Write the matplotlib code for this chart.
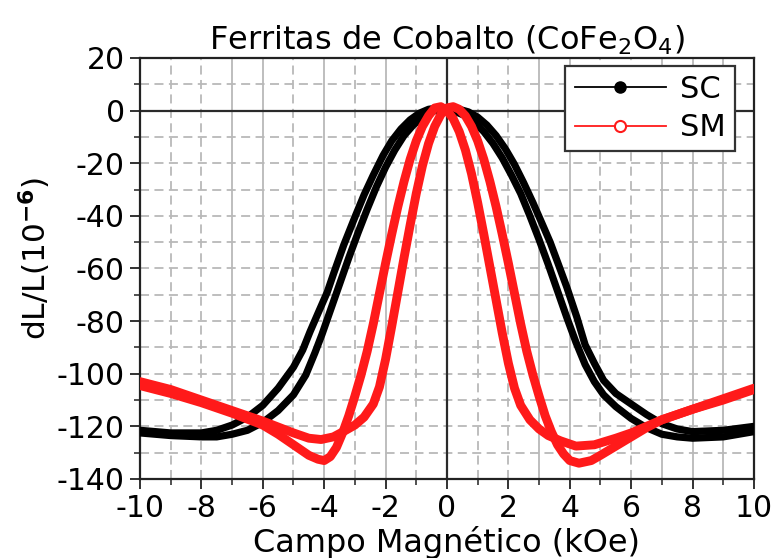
import matplotlib
matplotlib.use("Agg")
import matplotlib.pyplot as plt
from matplotlib.lines import Line2D

plt.rcParams["font.family"] = ["DejaVu Sans"]
plt.rcParams["axes.unicode_minus"] = False

# --- SC sample: two sweep branches -------------------------------------
sc_up_x = [-10, -9, -8, -7.5, -7, -6.5, -6, -5.5, -5, -4.7, -4.46, -4.2, -3.9, -3.68,
           -3.36, -3.0, -2.7, -2.4, -2.08, -1.8, -1.5, -1.2, -0.9, -0.6, -0.3, 0, 0.3,
           0.6, 0.9, 1.2, 1.5, 1.8, 2.1, 2.4, 2.7, 3.0, 3.3, 3.6, 3.9, 4.2, 4.5, 4.8,
           5.1, 5.5, 6.0, 6.5, 7, 7.5, 8, 9, 10]
sc_up_y = [-121.5, -122.5, -122.5, -121.5, -119.5, -116.5, -112, -105.5, -97.5, -91,
           -84, -77, -69, -61.5, -51, -40.5, -32, -24.5, -17, -11.5, -7, -3.5, -1, 0.5,
           1, 0.5, -0.5, -2, -4.5, -8, -12.5, -18, -24.5, -31.5, -40, -49, -58.5, -68.5,
           -78.5, -88, -96.5, -103, -108, -112.5, -117, -120.5, -123, -124, -124.5,
           -124, -122]
sc_dn_x = [-10, -9, -8, -7.5, -7, -6.5, -6, -5.5, -5, -4.6, -4.3, -4.07, -3.8, -3.5,
           -3.2, -2.9, -2.6, -2.3, -2.0, -1.7, -1.4, -1.1, -0.8, -0.5, -0.2, 0.1, 0.4,
           0.7, 1.0, 1.3, 1.6, 1.9, 2.2, 2.5, 2.8, 3.1, 3.36, 3.6, 3.9, 4.23, 4.5, 4.8,
           5.1, 5.5, 6.06, 6.5, 7, 7.5, 8, 9, 10]
sc_dn_y = [-122.5, -123.5, -124, -124, -123, -121.5, -118.5, -114, -108, -100.5, -92,
           -85, -76, -66, -56, -46.5, -37.5, -29, -21.5, -15, -9.5, -5.5, -2.5, -0.5,
           0.8, 1, 0.5, -0.5, -2.5, -5.5, -9.5, -14.5, -20.5, -27.5, -35, -43, -50, -57.5,
           -67, -78.5, -89, -96, -102.5, -107.5, -112, -115.5, -119, -121, -122, -121.5,
           -120]

# --- SM sample: two sweep branches -------------------------------------
sm_up_x = [-10, -9, -8, -7, -6, -5.5, -5, -4.5, -4.2, -4.0, -3.8, -3.6, -3.4, -3.2,
           -3.0, -2.8, -2.6, -2.4, -2.2, -2.0, -1.8, -1.6, -1.4, -1.2, -1.0, -0.8, -0.6,
           -0.4, -0.2, 0, 0.2, 0.4, 0.6, 0.8, 1.0, 1.2, 1.4, 1.6, 1.8, 2.0, 2.2, 2.4,
           2.7, 3.0, 3.3, 3.7, 4.2, 4.8, 5.5, 6, 6.5, 7, 8, 9, 10]
sm_up_y = [-104.5, -107.5, -111, -115, -119.5, -123, -127, -131, -132.5, -133, -131.5,
           -128, -122.5, -116, -108.5, -100.5, -91.5, -81, -69.5, -58, -47, -36.5, -27,
           -18.5, -11.5, -6, -2, 1, 1.5, 0, -3, -8, -15, -24, -35, -47, -59.5, -72,
           -84.5, -96, -105.5, -112, -117.5, -121, -123.5, -125.5, -127.5, -127, -124.5,
           -122.5, -120, -117.5, -113.5, -109.5, -105.5]
sm_dn_x = [-10, -9, -8, -7, -6, -5, -4.5, -4.1, -3.7, -3.3, -3.0, -2.7, -2.4, -2.2,
           -2.0, -1.8, -1.6, -1.4, -1.2, -1.0, -0.8, -0.6, -0.4, -0.2, 0, 0.2, 0.4, 0.6,
           0.8, 1.0, 1.2, 1.4, 1.6, 1.8, 2.0, 2.2, 2.4, 2.6, 2.8, 3.0, 3.2, 3.4, 3.6,
           3.8, 4.0, 4.3, 4.7, 5.0, 5.5, 6.0, 6.5, 7, 8, 9, 10]
sm_dn_y = [-103, -106, -110, -114, -118, -122.5, -124.5, -125, -124, -121.5, -119.5,
           -116.5, -111.5, -105, -94.5, -82, -69, -56, -43.5, -31.5, -21, -12.5, -6,
           -1.5, 1, 1.5, 0.5, -2, -6, -11.5, -18.5, -27, -36.5, -47, -58, -69.5, -81,
           -91.5, -100.5, -108.5, -116, -122, -127, -130.5, -133, -134, -133, -131,
           -127.5, -124, -120.5, -117.5, -113.5, -110, -106]

x_ticks = [-10, -8, -6, -4, -2, 0, 2, 4, 6, 8, 10]
y_ticks = [20, 0, -20, -40, -60, -80, -100, -120, -140]
solid_vgrid = [-7, -6, -4, -2, 3, 4, 7, 8, 9]

fig = plt.figure(figsize=(7.76, 5.58), dpi=100)
ax = fig.add_axes([0.1804, 0.1416, 0.7912, 0.7545])
ax.set_xlim(-10, 10)
ax.set_ylim(-140, 20)

grid_c = "#b9b9b9"
for gx in range(-9, 10):
    if gx == 0:
        continue
    ls = "-" if gx in solid_vgrid else (0, (5, 3))
    ax.axvline(gx, color=grid_c, lw=1.3, ls=ls, zorder=0)
for gy in range(-130, 20, 10):
    if gy == 0:
        continue
    ax.axhline(gy, color=grid_c, lw=1.3, ls=(0, (5, 3)), zorder=0)
ax.axhline(0, color="#2a2a2a", lw=1.6, zorder=1)
ax.axvline(0, color="#2a2a2a", lw=1.6, zorder=1)

red = "#ff1a1a"
for xs, ys in ((sc_up_x, sc_up_y), (sc_dn_x, sc_dn_y)):
    ax.plot(xs, ys, color="black", lw=5.2, solid_joinstyle="round",
            solid_capstyle="round", zorder=3)
for xs, ys in ((sm_up_x, sm_up_y), (sm_dn_x, sm_dn_y)):
    ax.plot(xs, ys, color=red, lw=6.4, solid_joinstyle="round",
            solid_capstyle="round", zorder=4)

ax.set_xticks(x_ticks)
ax.set_xticks(range(-10, 11), minor=True)
ax.set_yticks(y_ticks)
ax.set_yticks(range(-140, 21, 10), minor=True)
ax.set_xticklabels([str(v) for v in x_ticks])
ax.set_yticklabels([str(v) for v in y_ticks])
ax.tick_params(which="major", direction="out", length=7, width=1.3, labelsize=21.5,
               pad=4, color="#222222")
ax.tick_params(which="minor", direction="out", length=4, width=1.1, color="#222222")
for sp in ax.spines.values():
    sp.set_linewidth(1.6)
    sp.set_color("#222222")

ax.set_title("Ferritas de Cobalto (CoFe$_2$O$_4$)", fontsize=23, pad=6)
ax.set_xlabel("Campo Magnético (kOe)", fontsize=23, labelpad=2)
ax.set_ylabel(r"dL/L(10$^{\mathbf{-6}}$)", fontsize=22.5)
ax.yaxis.set_label_coords(-0.142, 0.523)

handles = [
    Line2D([], [], color="black", lw=1.3, marker="o", ms=8, mfc="black", mec="black"),
    Line2D([], [], color=red, lw=1.3, marker="o", ms=8, mfc="white", mec=red, mew=1.5),
]
leg = ax.legend(handles, ["SC", "SM"], loc="upper right", bbox_to_anchor=(0.969, 0.981),
                fontsize=22, frameon=True, fancybox=False, framealpha=1,
                edgecolor="#333333", handlelength=3.0, handletextpad=0.45,
                borderpad=0.3, labelspacing=0.3, borderaxespad=0)
leg.get_frame().set_linewidth(1.6)
leg.set_zorder(10)

fig.savefig("out.png", dpi=100)
